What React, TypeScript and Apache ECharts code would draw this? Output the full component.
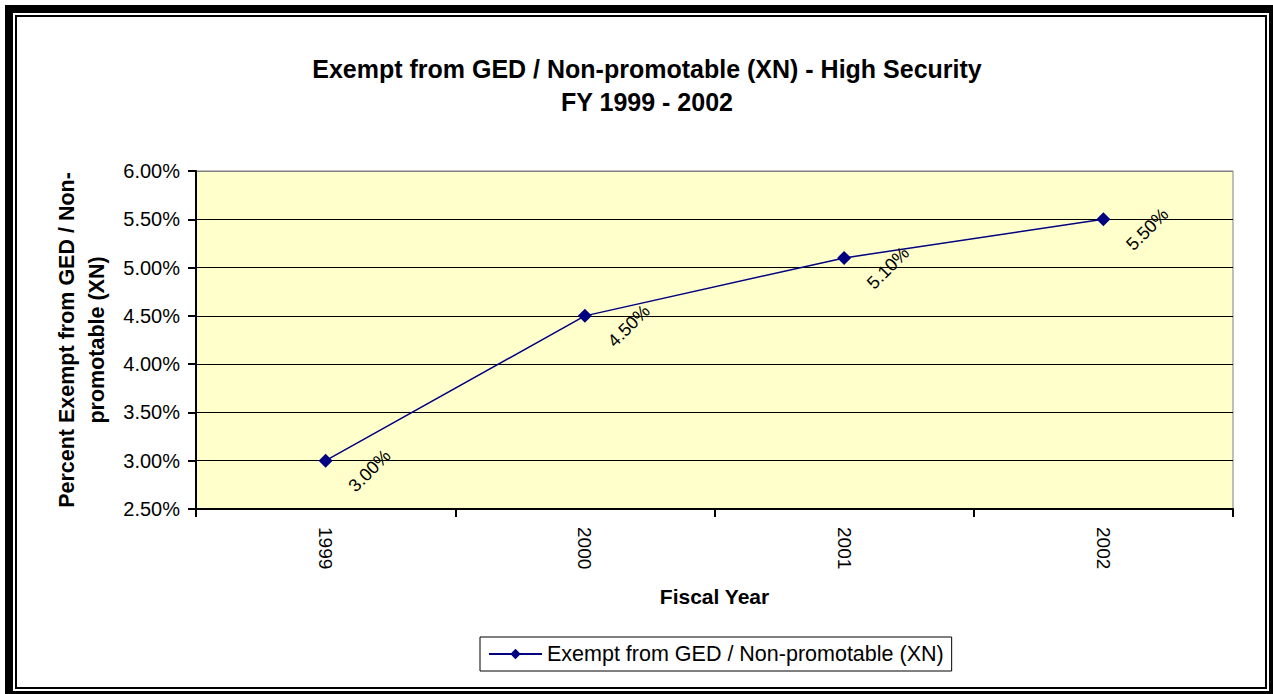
import React, { useEffect, useRef } from "react";
import * as echarts from "echarts";

const categories = ["1999", "2000", "2001", "2002"];
const values = [3.0, 4.5, 5.1, 5.5];
const seriesName = "Exempt from GED / Non-promotable (XN)";
const titleLines = ["Exempt from GED / Non-promotable (XN) - High Security", "FY 1999 - 2002"];
const yAxisTitle = ["Percent Exempt from GED / Non-", "promotable (XN)"];
const xAxisTitle = "Fiscal Year";

const FONT = "'Liberation Sans', Arial, sans-serif";

export default function App() {
  const ref = useRef<HTMLDivElement>(null);
  useEffect(() => {
    if (!ref.current) return;
    const chart = echarts.init(ref.current, undefined, { renderer: "svg" });
    const splitColors = ["#000", "#000", "#000", "#000", "#000", "#000", "#000", "#808080"];
    chart.setOption({
      animation: false,
      backgroundColor: "#fff",
      textStyle: { fontFamily: FONT },
      title: {
        text: titleLines.join("\n"),
        left: 642,
        textAlign: "center",
        top: 47,
        textStyle: { fontFamily: FONT, fontSize: 25, fontWeight: "bold", color: "#000", lineHeight: 33 },
      },
      grid: {
        left: 196,
        top: 171,
        right: 40,
        bottom: 185,
        show: true,
        backgroundColor: "#FFFFCC",
        borderColor: "#808080",
        borderWidth: 1,
      },
      xAxis: {
        type: "category",
        data: categories,
        boundaryGap: true,
        name: xAxisTitle,
        nameLocation: "middle",
        nameGap: 77,
        nameTextStyle: { fontFamily: FONT, fontSize: 21, fontWeight: "bold", color: "#000" },
        axisLine: { show: true, lineStyle: { color: "#000", width: 2 } },
        axisTick: { show: true, length: 8, lineStyle: { color: "#000", width: 2 } },
        axisLabel: { rotate: -90, margin: 18, fontFamily: FONT, fontSize: 19, color: "#000" },
        splitLine: { show: false },
      },
      yAxis: {
        type: "value",
        min: 2.5,
        max: 6,
        interval: 0.5,
        name: yAxisTitle.join("\n"),
        nameLocation: "middle",
        nameGap: 80,
        nameRotate: 90,
        nameTextStyle: { fontFamily: FONT, fontSize: 21.5, fontWeight: "bold", color: "#000", lineHeight: 30 },
        axisLine: { show: true, lineStyle: { color: "#000", width: 2 } },
        axisTick: { show: true, length: 8, lineStyle: { color: "#000", width: 2 } },
        axisLabel: {
          margin: 16,
          fontFamily: FONT,
          fontSize: 20,
          color: "#000",
          formatter: (v: number) => v.toFixed(2) + "%",
        },
        splitLine: { show: true, lineStyle: { color: splitColors, width: 1 } },
      },
      legend: {
        left: 480,
        top: 637,
        orient: "horizontal",
        borderColor: "#000",
        borderWidth: 1,
        padding: [6, 8, 6, 8],
        itemWidth: 53,
        itemHeight: 13,
        textStyle: { fontFamily: FONT, fontSize: 21.5, color: "#000" },
        data: [seriesName],
      },
      series: [
        {
          name: seriesName,
          type: "line",
          data: values,
          symbol: "diamond",
          symbolSize: 14,
          lineStyle: { color: "#000080", width: 1.5 },
          itemStyle: { color: "#000080" },
          label: {
            show: true,
            rotate: 45,
            position: [51, 17],
            align: "center",
            verticalAlign: "middle",
            fontFamily: FONT,
            fontSize: 18,
            color: "#000",
            formatter: (p: any) => p.value.toFixed(2) + "%",
          },
        },
      ],
      graphic: [
        {
          type: "rect",
          shape: { x: 9, y: 9, width: 1264, height: 686 },
          style: { fill: "none", stroke: "#000", lineWidth: 8 },
          silent: true,
        },
        {
          type: "rect",
          shape: { x: 16, y: 16, width: 1250, height: 672 },
          style: { fill: "none", stroke: "#000", lineWidth: 2 },
          silent: true,
        },
      ],
    });
    return () => chart.dispose();
  }, []);
  return (
    <div
      ref={ref}
      style={{ position: "fixed", left: 0, top: 0, width: 1273, height: 694 }}
    />
  );
}
